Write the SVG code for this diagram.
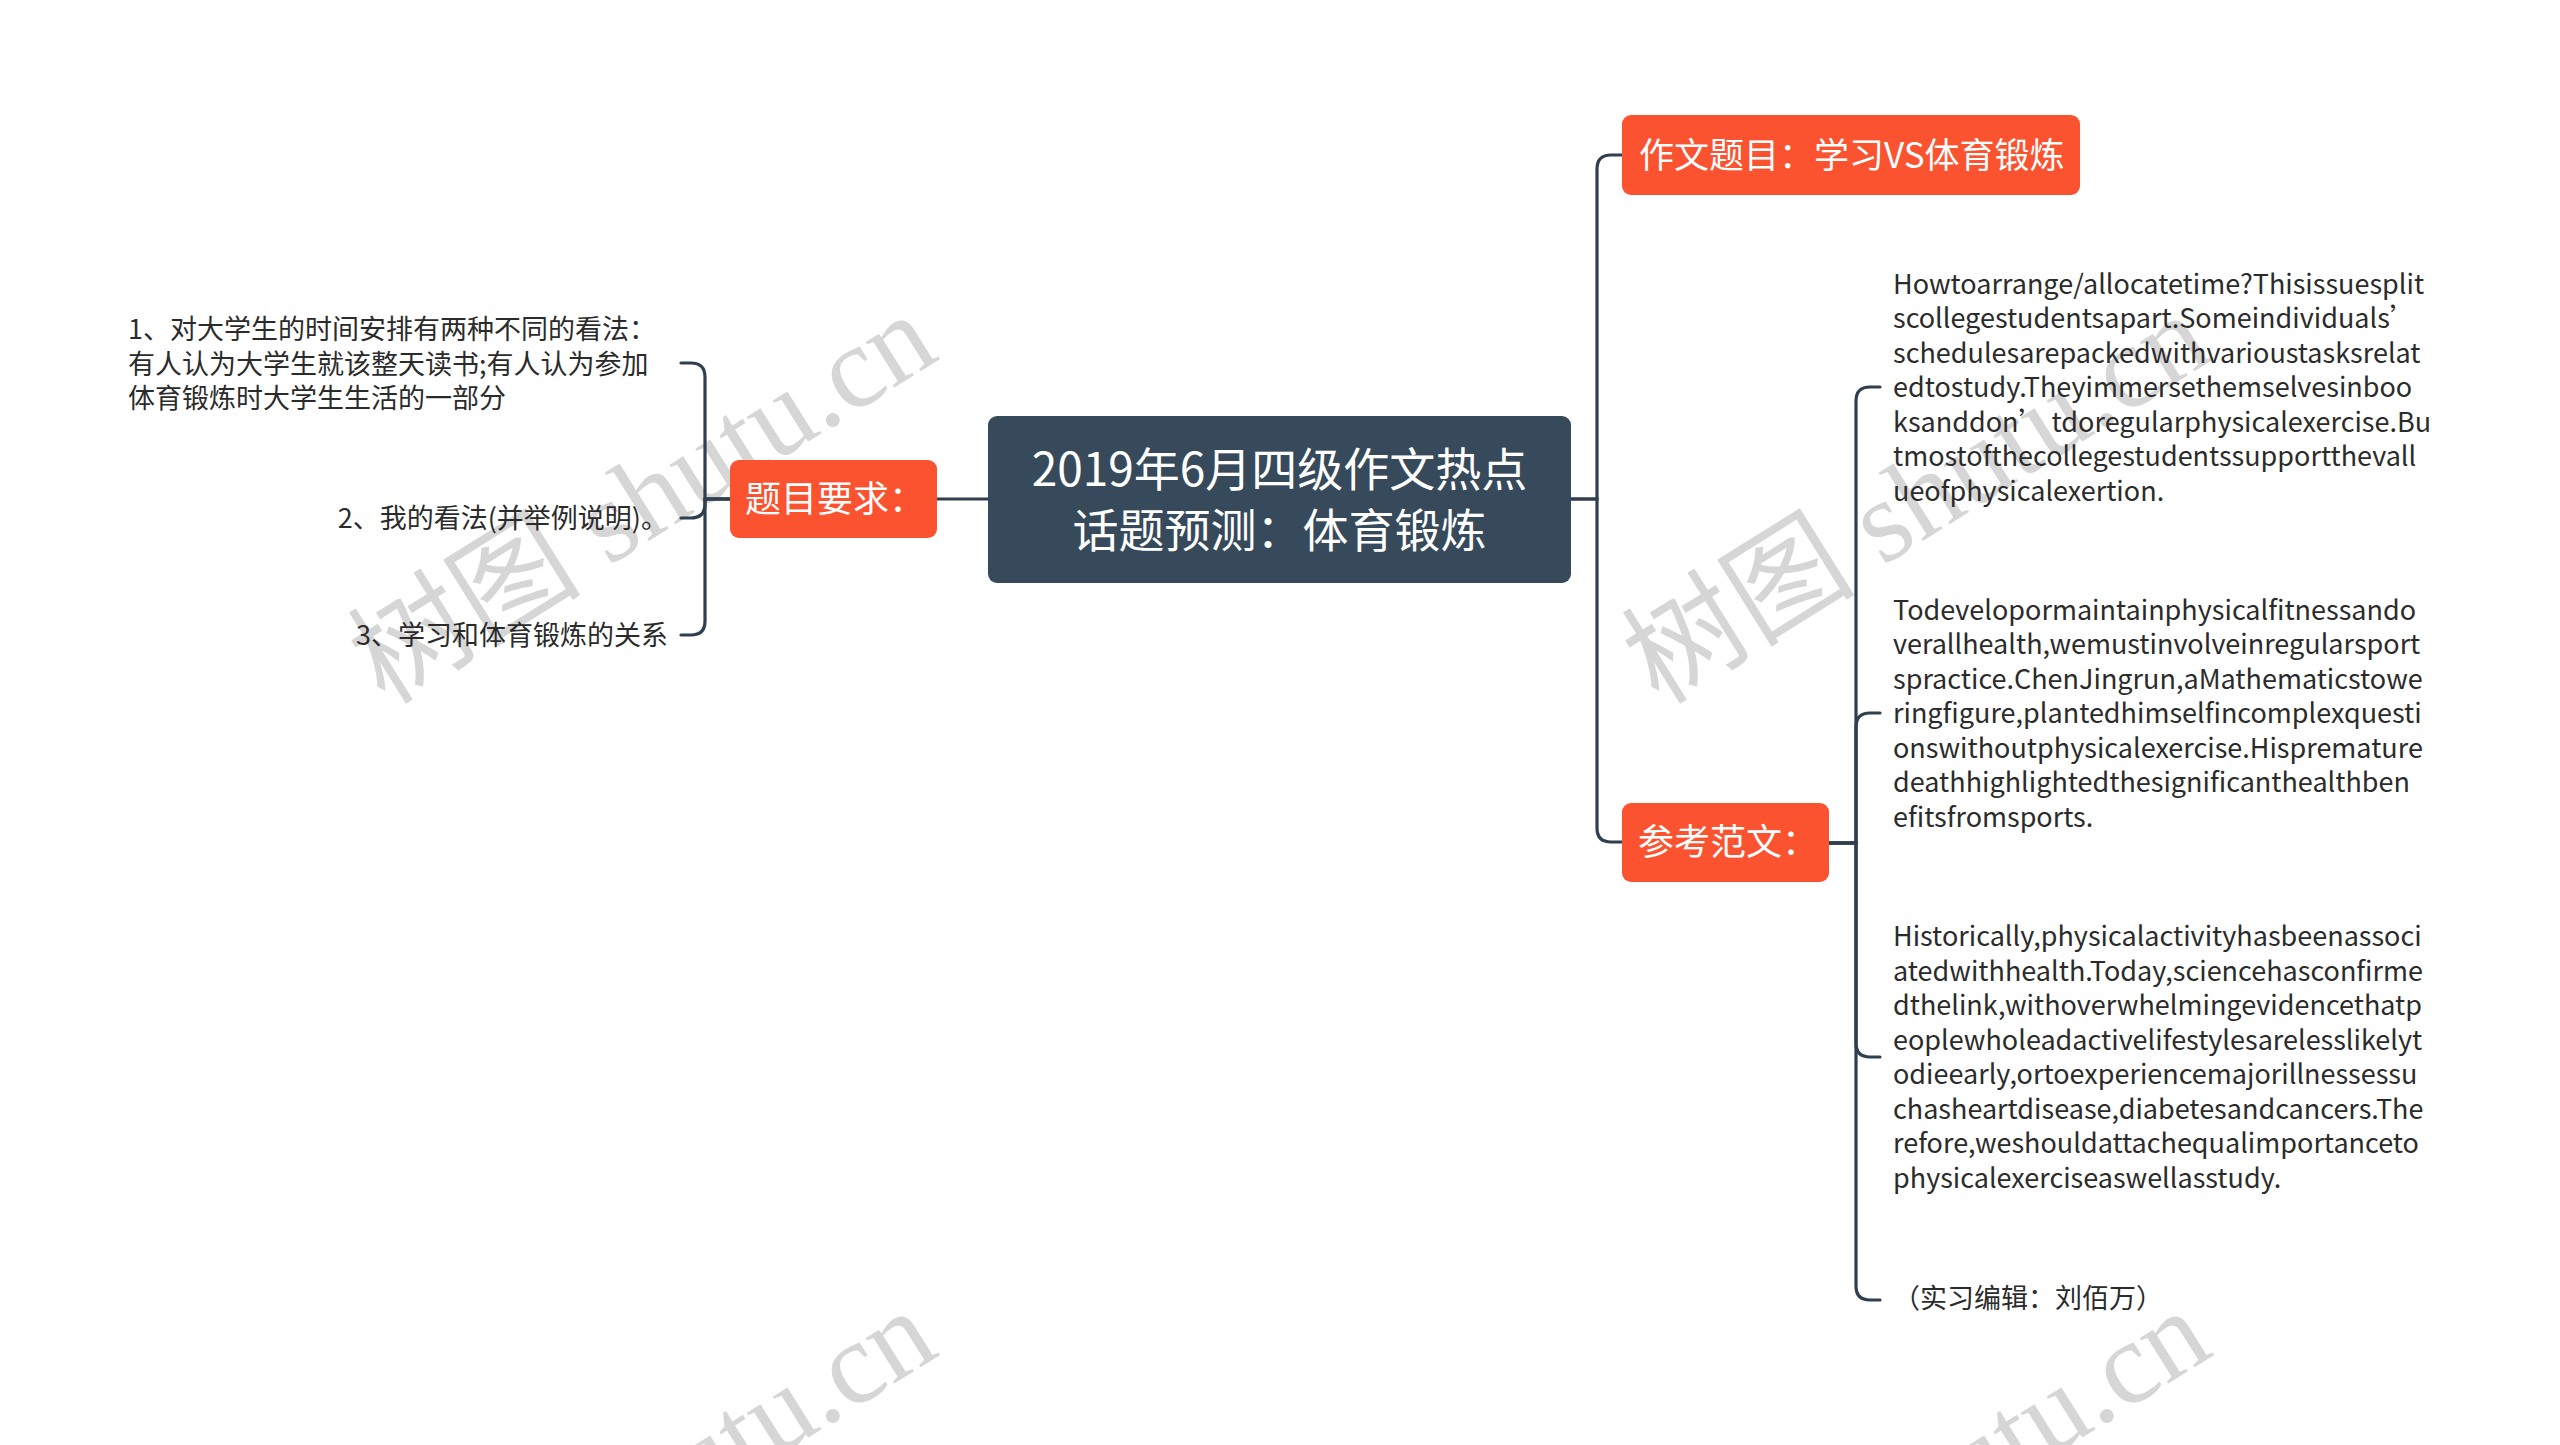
<svg xmlns="http://www.w3.org/2000/svg" width="2560" height="1445" viewBox="0 0 2560 1445">
<style>
.wm{font-family:"Liberation Serif","Noto Sans CJK SC",serif;font-size:117px;fill:#d6d6d6;}
.conn{fill:none;stroke:#2e3f4f;stroke-width:3.2;stroke-linecap:round;}
.orange{fill:#fb5230;}
.root{fill:#374a5b;}
.ntext{font-family:"Noto Sans CJK SC","Microsoft YaHei",sans-serif;fill:#ffffff;}
.leaf{font-family:"Noto Sans CJK SC","Microsoft YaHei",sans-serif;font-size:27px;fill:#2b2b2b;}
</style>
<rect x="0" y="0" width="2560" height="1445" fill="#ffffff"/>
<g id="watermarks">
<text class="wm" transform="translate(385,706) rotate(-32)">树图 shutu.cn</text>
<text class="wm" transform="translate(1659,706) rotate(-32)">树图 shutu.cn</text>
<text class="wm" transform="translate(385,1702) rotate(-32)">树图 shutu.cn</text>
<text class="wm" transform="translate(1659,1702) rotate(-32)">树图 shutu.cn</text>
</g>
<g id="connectors">
<path class="conn" d="M988 499 H937"/>
<path class="conn" d="M731 499 H705 V377 Q705 363 691 363 H681"/>
<path class="conn" d="M731 499 H705 V504 Q705 518 691 518 H681"/>
<path class="conn" d="M731 499 H705 V621 Q705 635 691 635 H681"/>
<path class="conn" d="M1571 499 H1597 V169 Q1597 155 1611 155 H1622"/>
<path class="conn" d="M1571 499 H1597 V828 Q1597 842 1611 842 H1622"/>
<path class="conn" d="M1829 843 H1856 V401 Q1856 387 1870 387 H1880"/>
<path class="conn" d="M1829 843 H1856 V727 Q1856 713 1870 713 H1880"/>
<path class="conn" d="M1829 843 H1856 V1043 Q1856 1057 1870 1057 H1880"/>
<path class="conn" d="M1829 843 H1856 V1286 Q1856 1300 1870 1300 H1880"/>
</g>
<g id="root">
<rect class="root" x="988" y="416" width="583" height="167" rx="9"/>
<text class="ntext" font-size="46" text-anchor="middle" x="1279.5" y="486">2019年6月四级作文热点</text>
<text class="ntext" font-size="46" text-anchor="middle" x="1279.5" y="547">话题预测：体育锻炼</text>
</g>
<g id="node-requirements">
<rect class="orange" x="730" y="460" width="207" height="78" rx="9"/>
<text class="ntext" font-size="36" x="745" y="512">题目要求：</text>
</g>
<g id="node-req-1">
<text class="leaf" x="128" y="339">1、对大学生的时间安排有两种不同的看法：</text>
<text class="leaf" x="128" y="373.5">有人认为大学生就该整天读书;有人认为参加</text>
<text class="leaf" x="128" y="408">体育锻炼时大学生生活的一部分</text>
</g>
<g id="node-req-2">
<text class="leaf" x="668" y="528" text-anchor="end">2、我的看法(并举例说明)。</text>
</g>
<g id="node-req-3">
<text class="leaf" x="668" y="645" text-anchor="end">3、学习和体育锻炼的关系</text>
</g>
<g id="node-title">
<rect class="orange" x="1622" y="115" width="458" height="80" rx="9"/>
<text class="ntext" font-size="35" x="1639" y="167.5">作文题目：学习VS体育锻炼</text>
</g>
<g id="node-sample">
<rect class="orange" x="1622" y="803" width="207" height="79" rx="9"/>
<text class="ntext" font-size="36" x="1638" y="855">参考范文：</text>
</g>
<g id="node-sample-1">
<text class="leaf" x="1893" y="293.5">Howtoarrange/allocatetime?Thisissuesplit</text>
<text class="leaf" x="1893" y="328">scollegestudentsapart.Someindividuals’</text>
<text class="leaf" x="1893" y="362.5">schedulesarepackedwithvarioustasksrelat</text>
<text class="leaf" x="1893" y="397">edtostudy.Theyimmersethemselvesinboo</text>
<text class="leaf" x="1893" y="431.5">ksanddon’ tdoregularphysicalexercise.Bu</text>
<text class="leaf" x="1893" y="466">tmostofthecollegestudentssupportthevall</text>
<text class="leaf" x="1893" y="500.5">ueofphysicalexertion.</text>
</g>
<g id="node-sample-2">
<text class="leaf" x="1893" y="619.5">Todevelopormaintainphysicalfitnessando</text>
<text class="leaf" x="1893" y="654">verallhealth,wemustinvolveinregularsport</text>
<text class="leaf" x="1893" y="688.5">spractice.ChenJingrun,aMathematicstowe</text>
<text class="leaf" x="1893" y="723">ringfigure,plantedhimselfincomplexquesti</text>
<text class="leaf" x="1893" y="757.5">onswithoutphysicalexercise.Hispremature</text>
<text class="leaf" x="1893" y="792">deathhighlightedthesignificanthealthben</text>
<text class="leaf" x="1893" y="826.5">efitsfromsports.</text>
</g>
<g id="node-sample-3">
<text class="leaf" x="1893" y="946">Historically,physicalactivityhasbeenassoci</text>
<text class="leaf" x="1893" y="980.5">atedwithhealth.Today,sciencehasconfirme</text>
<text class="leaf" x="1893" y="1015">dthelink,withoverwhelmingevidencethatp</text>
<text class="leaf" x="1893" y="1049.5">eoplewholeadactivelifestylesarelesslikelyt</text>
<text class="leaf" x="1893" y="1084">odieearly,ortoexperiencemajorillnessessu</text>
<text class="leaf" x="1893" y="1118.5">chasheartdisease,diabetesandcancers.The</text>
<text class="leaf" x="1893" y="1153">refore,weshouldattachequalimportanceto</text>
<text class="leaf" x="1893" y="1187.5">physicalexerciseaswellasstudy.</text>
</g>
<g id="node-sample-4">
<text class="leaf" x="1893" y="1308">（实习编辑：刘佰万）</text>
</g>
</svg>
